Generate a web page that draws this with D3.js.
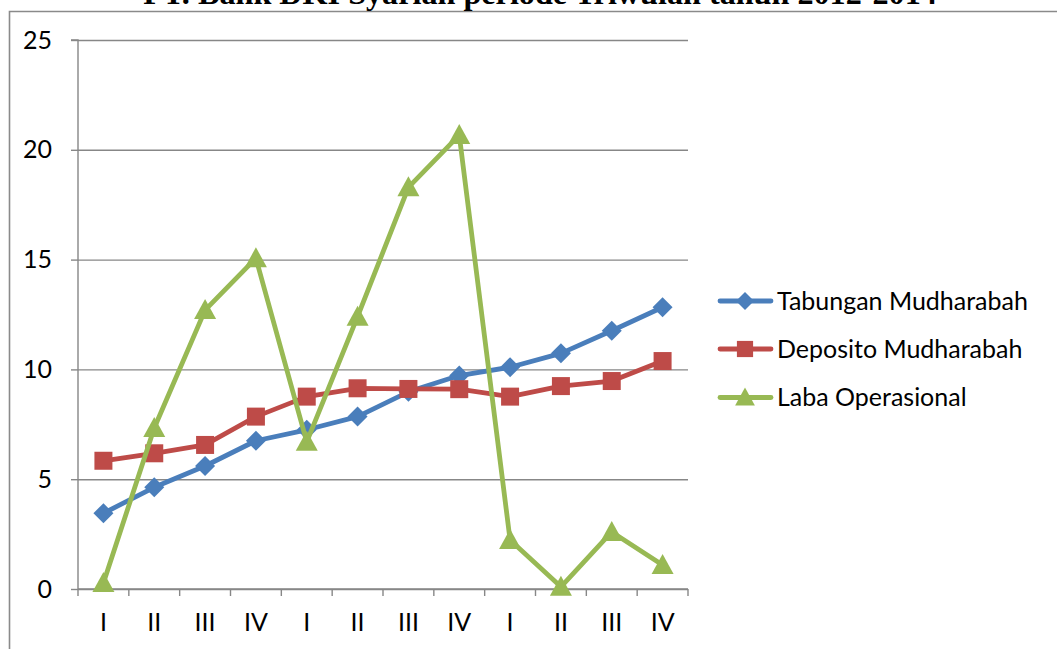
<!DOCTYPE html>
<html><head><meta charset="utf-8">
<script src="https://cdn.jsdelivr.net/npm/d3@7"></script>
<style>body{margin:0;background:#fff;overflow:hidden}</style>
</head><body><svg id="c" width="1057" height="649"></svg>
<script>
const categories = ["I","II","III","IV","I","II","III","IV","I","II","III","IV"];
const tabungan = [3.45,4.63,5.6,6.75,7.25,7.85,8.98,9.72,10.1,10.73,11.76,12.83];
const deposito = [5.84,6.18,6.56,7.85,8.76,9.14,9.11,9.1,8.76,9.24,9.47,10.38];
const laba = [0.27,7.33,12.7,15.06,6.7,12.4,18.29,20.67,2.23,0.1,2.6,1.09];
const seriesNames = ["Tabungan Mudharabah","Deposito Mudharabah","Laba Operasional"];
const seriesColors = ["#4a7ebb","#be4b48","#98b954"];
const yTicks = [0,5,10,15,20,25];
const title = "PT. Bank DKI Syariah periode Triwulan tahun 2012-2014";

const svg = d3.select("#c");
const L = 78, R = 688, T = 40, B = 589;
const sansFont = "Lato, 'Open Sans', sans-serif";
const gridColor = "#878787";

const x = d3.scaleBand().domain(d3.range(categories.length)).range([L, R]).padding(0);
const cx = i => x(i) + x.bandwidth() / 2;
const y = d3.scaleLinear().domain([0, 25]).range([B, T]);

// frame
svg.append("path").attr("d", `M9.5,649 L9.5,11.5 L1057,11.5`)
  .attr("fill", "none").attr("stroke", "#8a8a8a").attr("stroke-width", 1.6);

// title (clipped at top)
const tt = svg.append("text").text(title)
  .attr("x", 540).attr("y", 3.5).attr("text-anchor", "middle")
  .attr("font-family", "'Liberation Serif', 'Times New Roman', serif")
  .attr("font-weight", "bold").attr("font-size", 26).attr("fill", "#000");
const tw = tt.node().getComputedTextLength();
tt.attr("font-size", 26 * 794 / tw);

// measure font scale for sans labels
const probe = svg.append("text").text(seriesNames[0]).attr("font-family", sansFont).attr("font-size", 26);
const fs = 26 * 251 / probe.node().getComputedTextLength();
probe.remove();

// gridlines
const grid = svg.append("g")
  .attr("transform", `translate(${L},0)`)
  .call(d3.axisLeft(y).tickValues(yTicks).tickSize(-(R - L)).tickFormat(""));
grid.select(".domain").remove();
grid.selectAll("line").attr("stroke", gridColor).attr("stroke-width", 1.4);

// y axis
const ya = svg.append("g")
  .attr("transform", `translate(${L},0)`)
  .call(d3.axisLeft(y).tickValues(yTicks).tickSize(7).tickPadding(19));
ya.select(".domain").attr("stroke", gridColor).attr("stroke-width", 1.4).attr("d", `M-7,${T}H0V${B}`);
ya.selectAll("line").attr("stroke", gridColor).attr("stroke-width", 1.4);
ya.selectAll("text").attr("font-family", sansFont).attr("font-size", fs).attr("fill", "#000");

// x axis line + ticks between categories
const xa = svg.append("g").attr("transform", `translate(0,${B})`)
  .call(d3.axisBottom(x).tickSize(0).tickPadding(24).tickFormat(i => categories[i]));
xa.select(".domain").attr("stroke", gridColor).attr("stroke-width", 1.4).attr("d", `M${L},0H${R}`);
xa.selectAll("text").attr("font-family", sansFont).attr("font-size", fs).attr("fill", "#000");
svg.append("g").selectAll("line")
  .data(d3.range(categories.length + 1))
  .join("line")
  .attr("x1", i => i < categories.length ? x(i) : R).attr("x2", i => i < categories.length ? x(i) : R)
  .attr("y1", B).attr("y2", B + 7)
  .attr("stroke", gridColor).attr("stroke-width", 1.4);

// series
const seriesData = [tabungan, deposito, laba];
const symbols = [d3.symbolDiamond2 || d3.symbolDiamond, d3.symbolSquare, d3.symbolTriangle];
function markerPath(k) {
  if (k === 0) return "M0,-10L10,0L0,10L-10,0Z";
  if (k === 1) return "M-9,-9H9V9H-9Z";
  return "M0,-11L11,9L-11,9Z";
}
const line = d3.line().x((d, i) => cx(i)).y(d => y(d));
seriesData.forEach((vals, k) => {
  const g = svg.append("g");
  g.append("path").datum(vals).attr("d", line)
    .attr("fill", "none").attr("stroke", seriesColors[k]).attr("stroke-width", 4.8)
    .attr("stroke-linejoin", "round").attr("stroke-linecap", "round");
  g.selectAll("path.m").data(vals).join("path").attr("class", "m")
    .attr("d", markerPath(k))
    .attr("transform", (d, i) => `translate(${cx(i)},${y(d)})`)
    .attr("fill", seriesColors[k]);
});

// legend
const legY = [301, 349, 397.5];
const leg = svg.append("g");
seriesNames.forEach((name, k) => {
  leg.append("line").attr("x1", 720).attr("x2", 771).attr("y1", legY[k]).attr("y2", legY[k])
    .attr("stroke", seriesColors[k]).attr("stroke-width", 4.8).attr("stroke-linecap", "round");
  leg.append("path").attr("d", markerPath(k)).attr("transform", `translate(745,${legY[k]}) scale(0.9)`)
    .attr("fill", seriesColors[k]);
  leg.append("text").text(name).attr("x", 777).attr("y", legY[k]).attr("dy", "0.35em")
    .attr("font-family", sansFont).attr("font-size", fs).attr("fill", "#000");
});
</script></body></html>
